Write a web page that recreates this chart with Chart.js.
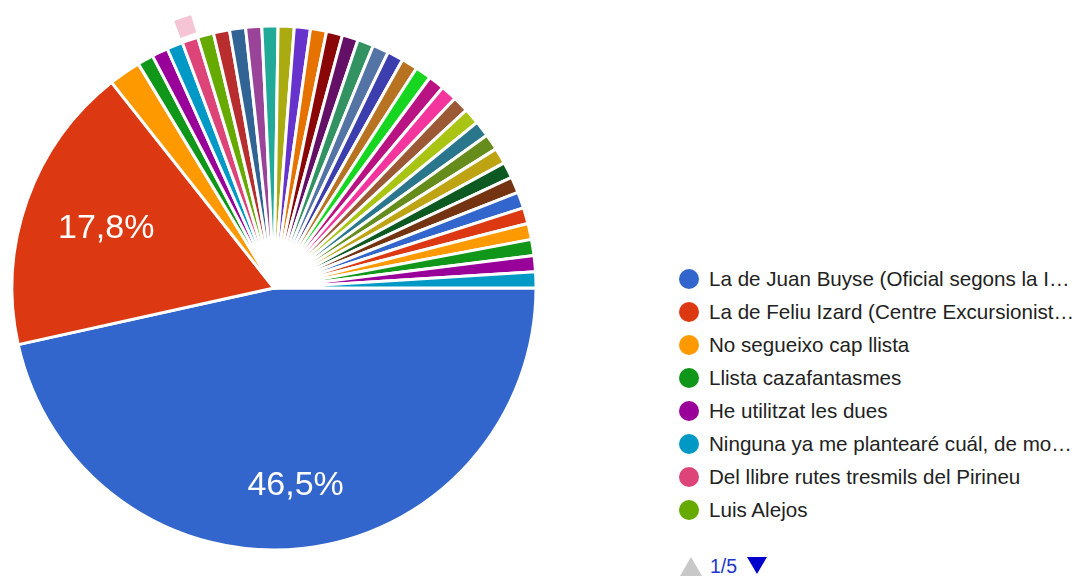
<!DOCTYPE html>
<html>
<head>
<meta charset="utf-8">
<script src="https://cdn.jsdelivr.net/npm/chart.js@4"></script>
<style>
  html, body { margin: 0; padding: 0; background: #fff; }
  body { width: 1078px; height: 580px; position: relative; overflow: hidden; font-family: "Liberation Sans", Arial, sans-serif; }
  #pieWrap { position: absolute; left: 0; top: 0; width: 548px; height: 576px; }
  #legend { position: absolute; left: 679px; top: 262px; margin: 0; padding: 0; list-style: none; }
  #legend li { height: 33px; line-height: 33px; font-size: 20.6px; color: #222; white-space: nowrap; position: relative; padding-left: 30px; }
  #legend li span { position: absolute; left: 0; top: 6.5px; width: 20px; height: 20px; border-radius: 50%; }
  #pager { position: absolute; left: 680px; top: 555px; font-size: 19.5px; color: #1a36cc; white-space: nowrap; }
  #pager .up { display: inline-block; width: 0; height: 0; border-left: 11px solid transparent; border-right: 11px solid transparent; border-bottom: 19px solid #c8c8c8; vertical-align: -3px; margin-right: 8px; }
  #pager .down { display: inline-block; width: 0; height: 0; border-left: 10px solid transparent; border-right: 10px solid transparent; border-top: 17px solid #0000cc; vertical-align: -1px; margin-left: 10px; }
</style>
</head>
<body>
<div id="pieWrap"><canvas id="pieChart"></canvas></div>
<ul id="legend"></ul>
<div id="pager"><span class="up"></span>1/5<span class="down"></span></div>
<script>
// Answers visible on page 1 of the legend (text as truncated in the original)
const shownLabels = [
    'La de Juan Buyse (Oficial segons la I…',
    'La de Feliu Izard (Centre Excursionist…',
    'No segueixo cap llista',
    'Llista cazafantasmes',
    'He utilitzat les dues',
    'Ninguna ya me plantearé cuál, de mo…',
    'Del llibre rutes tresmils del Pirineu',
    'Luis Alejos'
];
// The other answers sit on legend pages 2-5, not readable
const hiddenLabels = Array.from({ length: 29 }, (_, i) => 'Resposta ' + (i + 9));
const categories = shownLabels.concat(hiddenLabels);

// Responses per answer (101 in total)
const responses = [47, 18, 2,
    1, 1, 1, 1, 1, 1, 1, 1, 1, 1, 1, 1, 1, 1, 1, 1, 1,
    1, 1, 1, 1, 1, 1, 1, 1, 1, 1, 1, 1, 1, 1, 1, 1, 1];

// Google Charts default palette
const sliceColors = [
    '#3366cc', '#dc3912', '#ff9900', '#109618', '#990099', '#0099c6', '#dd4477', '#66aa00',
    '#b82e2e', '#316395', '#994499', '#22aa99', '#aaaa11', '#6633cc', '#e67300', '#8b0707',
    '#651067', '#329262', '#5574a6', '#3b3eac', '#b77322', '#16d620', '#b91383', '#f4359e',
    '#9c5935', '#a9c413', '#2a778d', '#668d1c', '#bea413', '#0c5922', '#743411',
    '#3366cc', '#dc3912', '#ff9900', '#109618', '#990099', '#0099c6'
];

const legendPageSize = 8;
const highlightedSlice = 6; // the slice with the light ring outside

// Percentage text inside the big slices
const sliceLabelPlugin = {
    id: 'sliceLabels',
    afterDatasetsDraw(chart) {
        const ctx = chart.ctx;
        const meta = chart.getDatasetMeta(0);
        const total = responses.reduce((a, b) => a + b, 0);
        ctx.save();
        ctx.fillStyle = '#ffffff';
        ctx.font = '34px "Liberation Sans", Arial, sans-serif';
        ctx.textAlign = 'center';
        ctx.textBaseline = 'middle';
        meta.data.forEach((arc, i) => {
            const frac = responses[i] / total;
            if (frac < 0.05) return;
            const mid = (arc.startAngle + arc.endAngle) / 2;
            const r = arc.outerRadius * (0.63 + 0.28 * frac);
            const text = (frac * 100).toFixed(1).replace('.', ',') + '%';
            ctx.fillText(text, arc.x + Math.cos(mid) * r, arc.y + Math.sin(mid) * r);
        });
        ctx.restore();
    }
};

// Light ring outside the highlighted slice
const highlightPlugin = {
    id: 'highlightRing',
    afterDatasetsDraw(chart) {
        const arc = chart.getDatasetMeta(0).data[highlightedSlice];
        if (!arc) return;
        const ctx = chart.ctx;
        ctx.save();
        ctx.beginPath();
        ctx.arc(arc.x, arc.y, arc.outerRadius + 23, arc.startAngle, arc.endAngle);
        ctx.arc(arc.x, arc.y, arc.outerRadius + 5, arc.endAngle, arc.startAngle, true);
        ctx.closePath();
        ctx.fillStyle = '#f5c4d5';
        ctx.fill();
        ctx.restore();
    }
};

const pieChart = new Chart(document.getElementById('pieChart'), {
    type: 'pie',
    data: {
        labels: categories,
        datasets: [{
            data: responses,
            backgroundColor: sliceColors,
            borderColor: '#ffffff',
            borderWidth: 3
        }]
    },
    options: {
        responsive: true,
        maintainAspectRatio: false,
        animation: false,
        rotation: 90,
        radius: 262,
        events: [],
        plugins: {
            legend: { display: false },
            tooltip: { enabled: false }
        }
    },
    plugins: [sliceLabelPlugin, highlightPlugin]
});

// HTML legend, first page only
const legendList = document.getElementById('legend');
categories.slice(0, legendPageSize).forEach((label, i) => {
    const li = document.createElement('li');
    const dot = document.createElement('span');
    dot.style.background = sliceColors[i];
    li.appendChild(dot);
    li.appendChild(document.createTextNode(label));
    legendList.appendChild(li);
});
</script>
</body>
</html>
